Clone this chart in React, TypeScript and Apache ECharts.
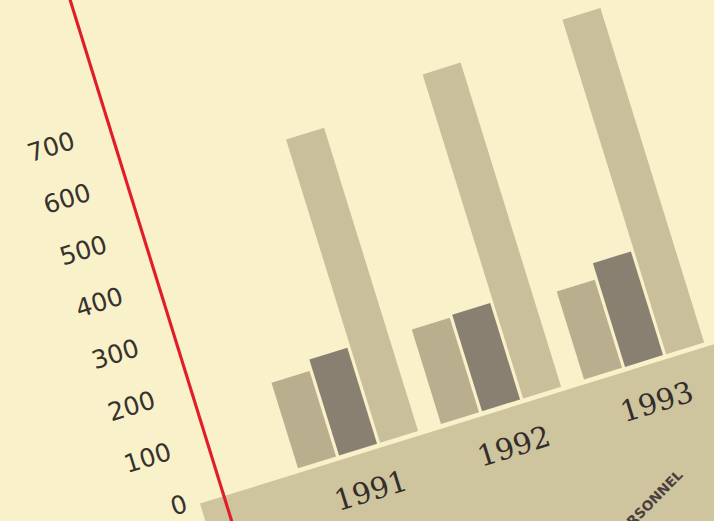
import React, { useEffect, useRef } from "react";
import * as echarts from "echarts";

// ---- data ----
const years = ["1991", "1992", "1993"];
const seriesShort = [165, 182, 170]; // light short bar
const seriesDark = [185, 186, 200]; // dark bar
const seriesTall = [585, 625, 645]; // tall light bar
const yMin = 0;
const yMax = 700;
const yStep = 100;
const cornerText = "PERSONNEL";

export default function App() {
  const ref = useRef<HTMLDivElement>(null);

  useEffect(() => {
    const el = ref.current;
    if (!el) return;
    const chart = echarts.init(el, null, { renderer: "svg" });
    const barCommon = {
      type: "bar",
      barWidth: 38,
      barGap: "8%",
      z: 3,
    };
    chart.setOption({
      animation: false,
      backgroundColor: "transparent",
      grid: { left: 278, right: 98, top: 153.5, bottom: 173.5 },
      xAxis: {
        type: "category",
        data: years,
        axisLine: { show: false },
        axisTick: { show: false },
        axisLabel: {
          margin: 27,
          fontFamily: "DejaVu Serif",
          fontSize: 28,
          color: "#332d2b",
        },
      },
      yAxis: {
        type: "value",
        min: yMin,
        max: yMax,
        interval: yStep,
        offset: 64,
        axisLine: { show: false },
        axisTick: { show: false },
        splitLine: { show: false },
        axisLabel: {
          margin: 36,
          fontFamily: "DejaVu Sans",
          fontSize: 24,
          color: "#38322f",
        },
      },
      series: [
        { ...barCommon, name: "A", data: seriesShort, itemStyle: { color: "#b9ae8e" } },
        { ...barCommon, name: "B", data: seriesDark, itemStyle: { color: "#8a8072" } },
        { ...barCommon, name: "C", data: seriesTall, itemStyle: { color: "#c9bf9a" } },
      ],
      graphic: [
        {
          type: "rect",
          z: 0,
          shape: { x: 190, y: 521, width: 640, height: 200 },
          style: { fill: "#cec49d" },
        },
        {
          type: "text",
          z: 5,
          x: 640,
          y: 634,
          rotation: (28 * Math.PI) / 180,
          style: {
            text: cornerText,
            fill: "#4a4040",
            font: "bold 13px 'DejaVu Sans'",
            align: "right",
            verticalAlign: "bottom",
          },
        },
        {
          type: "line",
          z: 10,
          shape: { x1: 214, y1: 0, x2: 214, y2: 700 },
          style: { stroke: "#e21d2a", lineWidth: 3 },
        },
      ],
    });
    return () => chart.dispose();
  }, []);

  return (
    <div
      style={{
        position: "fixed",
        left: 0,
        top: 0,
        width: 714,
        height: 521,
        overflow: "hidden",
        background: "#f9f1c9",
      }}
    >
      <div
        ref={ref}
        style={{
          position: "absolute",
          left: 0,
          top: 0,
          width: 805,
          height: 690,
          transformOrigin: "0 0",
          transform: "matrix(1, -0.31, 0.31, 1, -151.55, 41.5)",
        }}
      />
    </div>
  );
}
